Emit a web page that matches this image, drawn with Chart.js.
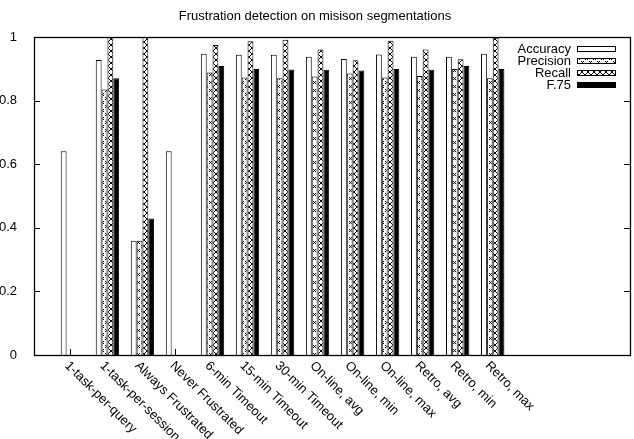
<!DOCTYPE html>
<html>
<head>
<meta charset="utf-8">
<script src="https://cdn.jsdelivr.net/npm/chart.js@4.4.1/dist/chart.umd.min.js"></script>
<style>
  html, body { margin: 0; padding: 0; background: #fff; }
  #wrap { width: 634px; height: 439px; position: relative; }
</style>
</head>
<body>
<div id="wrap"><canvas id="c" width="634" height="439"></canvas></div>
<script>
const titleText = 'Frustration detection on misison segmentations';
const categories = ['1-task-per-query', '1-task-per-session', 'Always Frustrated', 'Never Frustrated',
  '6-min Timeout', '15-min Timeout', '30-min Timeout', 'On-line, avg', 'On-line, min', 'On-line, max',
  'Retro, avg', 'Retro, min', 'Retro, max'];
const seriesNames = ['Accuracy', 'Precision', 'Recall', 'F.75'];
const accuracy  = [0.641, 0.928, 0.359, 0.641, 0.947, 0.944, 0.944, 0.938, 0.931, 0.945, 0.938, 0.938, 0.947];
const precision = [0,     0.835, 0.359, 0,     0.888, 0.873, 0.870, 0.876, 0.885, 0.873, 0.877, 0.899, 0.870];
const recall    = [0,     1.000, 1.000, 0,     0.975, 0.987, 0.991, 0.961, 0.927, 0.988, 0.961, 0.930, 0.998];
const f75       = [0,     0.870, 0.429, 0,     0.909, 0.899, 0.898, 0.897, 0.895, 0.899, 0.897, 0.909, 0.899];
const yTicks = [0, 0.2, 0.4, 0.6, 0.8, 1];

const FONT = '"Liberation Sans", Arial, Helvetica, sans-serif';
const FS = 13;

function makePattern(size, draw) {
  const c = document.createElement('canvas');
  c.width = size; c.height = size;
  const g = c.getContext('2d');
  g.fillStyle = '#fff';
  g.fillRect(0, 0, size, size);
  g.fillStyle = '#000';
  g.strokeStyle = '#000';
  g.lineWidth = 1;
  draw(g);
  return document.getElementById('c').getContext('2d').createPattern(c, 'repeat');
}
// sparse "x" marks
const precPattern = makePattern(8, g => {
  g.beginPath();
  g.moveTo(1, 1); g.lineTo(4, 4); g.moveTo(4, 1); g.lineTo(1, 4);
  g.moveTo(5, 5); g.lineTo(8, 8); g.moveTo(8, 5); g.lineTo(5, 8);
  g.stroke();
});
// dense crosshatch
const recPattern = makePattern(6, g => {
  g.beginPath();
  g.moveTo(0, 0); g.lineTo(6, 6); g.moveTo(6, 0); g.lineTo(0, 6);
  g.stroke();
});

const fills = ['#ffffff', precPattern, recPattern, '#000000'];
const values = [accuracy, precision, recall, f75];

const datasets = seriesNames.map((name, k) => ({
  label: name,
  data: categories.map((c, i) => ({ x: i, y: values[k][i] })),
  backgroundColor: fills[k],
  borderColor: '#000',
  borderWidth: 1,
  borderSkipped: 'bottom',
  categoryPercentage: 0.667,
  barPercentage: 1.0
}));

const decor = {
  id: 'decor',
  beforeDatasetsDraw(chart) {
    const ctx = chart.ctx, a = chart.chartArea;
    const meta = chart.getDatasetMeta(1);
    ctx.save();
    ctx.strokeStyle = '#000';
    ctx.lineWidth = 1;
    ctx.beginPath();
    meta.data.forEach(el => {
      const x = Math.round(el.x) + 0.5;
      ctx.moveTo(x, a.bottom);
      ctx.lineTo(x, a.bottom - 6);
    });
    ctx.stroke();
    ctx.restore();
  },
  afterDatasetsDraw(chart) {
    const ctx = chart.ctx, a = chart.chartArea;
    const ys = chart.scales.y;
    ctx.save();
    ctx.strokeStyle = '#000';
    ctx.lineWidth = 1;
    ctx.beginPath();
    yTicks.forEach(v => {
      const y = Math.round(ys.getPixelForValue(v)) + 0.5;
      ctx.moveTo(a.left, y); ctx.lineTo(a.left + 6, y);
      ctx.moveTo(a.right, y); ctx.lineTo(a.right - 6, y);
    });
    ctx.stroke();
    ctx.lineWidth = 1.3;
    ctx.strokeRect(Math.round(a.left) + 0.5, Math.round(a.top) + 0.5,
      Math.round(a.right - a.left), Math.round(a.bottom - a.top));

    const meta = chart.getDatasetMeta(1);
    ctx.fillStyle = '#000';
    ctx.font = FS + 'px ' + FONT;
    ctx.textAlign = 'left';
    ctx.textBaseline = 'top';
    categories.forEach((lab, i) => {
      const el = meta.data[i];
      ctx.save();
      ctx.translate(el.x + 2, a.bottom + 4);
      ctx.rotate(Math.PI / 4);
      ctx.fillText(lab, 0, 0);
      ctx.restore();
    });

    const rows = [49, 61, 73, 85];
    ctx.textAlign = 'right';
    ctx.textBaseline = 'middle';
    seriesNames.forEach((name, k) => {
      const y = rows[k];
      ctx.fillText(name, 571, y);
      ctx.fillStyle = fills[k];
      ctx.fillRect(577, Math.round(y - 3), 39, 6);
      ctx.strokeStyle = '#000';
      ctx.lineWidth = 1;
      ctx.strokeRect(577.5, Math.round(y - 3) + 0.5, 38, 5);
      ctx.fillStyle = '#000';
    });
    ctx.restore();
  }
};

new Chart(document.getElementById('c'), {
  type: 'bar',
  data: { datasets },
  plugins: [decor],
  options: {
    responsive: false,
    animation: false,
    devicePixelRatio: 1,
    layout: { padding: { left: 0, right: 4, top: 0, bottom: 84 } },
    plugins: {
      legend: { display: false },
      tooltip: { enabled: false },
      title: {
        display: true,
        text: titleText,
        color: '#000',
        font: { family: FONT, size: FS, weight: 'normal' },
        padding: { top: 8.5, bottom: 12.9 }
      }
    },
    scales: {
      x: {
        type: 'linear',
        min: -1.097,
        max: 15.92,
        display: false,
        offset: false
      },
      y: {
        min: 0,
        max: 1,
        afterFit(s) { s.width = 34; },
        grid: { display: false },
        border: { display: false },
        ticks: {
          stepSize: 0.2,
          padding: 9,
          color: '#000',
          font: { family: FONT, size: FS },
          callback: v => String(Math.round(v * 10) / 10)
        }
      }
    }
  }
});
</script>
</body>
</html>
